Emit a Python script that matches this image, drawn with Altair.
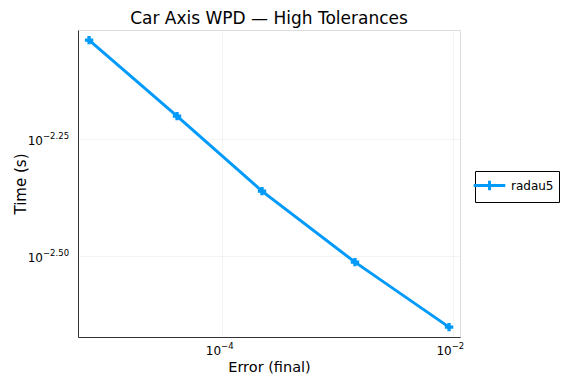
import altair as alt
import pandas as pd

# data
err = [7.03e-6, 4.07e-5, 2.22e-4, 1.42e-3, 9.29e-3]
time_s = [0.009166, 0.006300, 0.004351, 0.003065, 0.002224]
series = ["radau5"] * 5

x_ticks = [1e-4, 1e-2]
x_exp = ["\u22124", "\u22122"]
y_ticks = [10 ** -2.25, 10 ** -2.5]
y_exp = ["\u22122.25", "\u22122.50"]
title_text = ["Car Axis WPD \u2014 High Tolerances"]

W, H = 382, 307
BLUE = "#009AFA"
FONT = "DejaVu Sans"

df = pd.DataFrame({"err": err, "time": time_s, "series": series})
xt = pd.DataFrame({"v": x_ticks, "e": x_exp, "b": ["10"] * len(x_ticks)})
yt = pd.DataFrame({"v": y_ticks, "e": y_exp, "b": ["10"] * len(y_ticks)})
tt = pd.DataFrame({"t": title_text})

xs = alt.Scale(type="log", domain=[10 ** -5.249, 10 ** -1.937], nice=False)
ys = alt.Scale(type="log", domain=[10 ** -2.674, 10 ** -2.016], nice=False)

xaxis = alt.Axis(values=x_ticks, labels=False, ticks=False, grid=True,
                 gridColor="#000000", gridOpacity=0.08, gridWidth=0.6,
                 domainColor="#333333", domainWidth=1,
                 title="Error (final)", titleFont=FONT, titleFontSize=14.5,
                 titleFontWeight="normal", titleColor="#000000", titlePadding=23)
yaxis = alt.Axis(values=y_ticks, labels=False, ticks=False, grid=True,
                 gridColor="#000000", gridOpacity=0.08, gridWidth=0.6,
                 domainColor="#333333", domainWidth=1,
                 title="Time (s)", titleFont=FONT, titleFontSize=15,
                 titleFontWeight="normal", titleColor="#000000", titlePadding=50)

color = alt.Color("series:N", scale=alt.Scale(domain=["radau5"], range=[BLUE]),
                  legend=alt.Legend(title=None, orient="none", legendX=397, legendY=141,
                                    strokeColor="#000000", padding=5, cornerRadius=0,
                                    symbolType="M-2,0H2M0,-0.6V0.6", symbolSize=250,
                                    symbolStrokeWidth=3, symbolStrokeColor=BLUE,
                                    symbolFillColor="transparent",
                                    labelFont=FONT, labelFontSize=12, labelColor="#000000",
                                    labelOffset=12))

line = alt.Chart(df).mark_line(strokeWidth=3).encode(
    x=alt.X("err:Q", scale=xs, axis=xaxis),
    y=alt.Y("time:Q", scale=ys, axis=yaxis),
    color=color,
)
pts = alt.Chart(df).mark_point(shape="cross", filled=True, size=70, opacity=1).encode(
    x=alt.X("err:Q", scale=xs),
    y=alt.Y("time:Q", scale=ys),
    color=color,
)

xb = alt.Chart(xt).mark_text(align="right", baseline="alphabetic", font=FONT, fontSize=12,
                             dx=-1, color="#000000").encode(
    x=alt.X("v:Q", scale=xs), y=alt.value(H + 18), text="b:N")
xe = alt.Chart(xt).mark_text(align="left", baseline="alphabetic", font=FONT, fontSize=8.5,
                             dx=-1, color="#000000").encode(
    x=alt.X("v:Q", scale=xs), y=alt.value(H + 12), text="e:N")
yb = alt.Chart(yt).mark_text(align="right", baseline="alphabetic", font=FONT, fontSize=12,
                             dy=6, color="#000000").encode(
    y=alt.Y("v:Q", scale=ys), x=alt.value(-35), text="b:N")
ye = alt.Chart(yt).mark_text(align="left", baseline="alphabetic", font=FONT, fontSize=8.5,
                             dy=0, color="#000000").encode(
    y=alt.Y("v:Q", scale=ys), x=alt.value(-35), text="e:N")
title = alt.Chart(tt).mark_text(align="center", baseline="alphabetic", font=FONT, fontSize=17,
                                color="#000000").encode(
    x=alt.value(W / 2), y=alt.value(-6), text="t:N")

chart = alt.layer(line, pts, xb, xe, yb, ye, title).properties(
    width=W, height=H,
    autosize=alt.AutoSizeParams(type="none"),
    padding={"left": 70, "top": 22, "right": 108, "bottom": 39},
).configure_view(strokeWidth=0, stroke="transparent").configure(background="white")

chart.save("out.html", embed_options={"renderer": "svg", "actions": False})
